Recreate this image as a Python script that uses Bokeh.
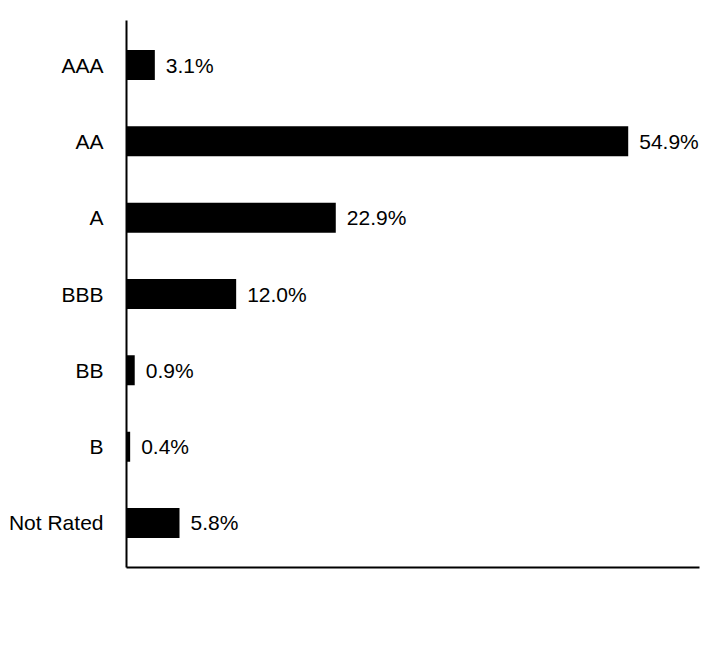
from bokeh.plotting import figure
from bokeh.models import ColumnDataSource, FactorRange, Range1d
from bokeh.core.properties import value
from bokeh.embed import file_html
from bokeh.resources import INLINE

ratings = ["AAA", "AA", "A", "BBB", "BB", "B", "Not Rated"]
weights = [3.1, 54.9, 22.9, 12.0, 0.9, 0.4, 5.8]
labels = ["%.1f%%" % w for w in weights]

src = ColumnDataSource(data=dict(rating=ratings, weight=weights, label=labels))

yr = FactorRange(factors=list(reversed(ratings)), range_padding=0.083,
                 range_padding_units="absolute")

p = figure(width=712, height=640, y_range=yr, x_range=Range1d(0, 62.7),
           output_backend="svg", toolbar_location=None,
           min_border_left=126, min_border_right=13,
           min_border_top=20, min_border_bottom=73)

p.hbar(y="rating", right="weight", left=0, height=0.393, source=src,
       fill_color="black", line_color=None)
p.text(x="weight", y="rating", text="label", source=src, x_offset=11,
       text_baseline="middle", text_align="left", text_font_size="21px",
       text_font=value("Liberation Sans"), text_color="black")

p.outline_line_color = None
p.xgrid.grid_line_color = None
p.ygrid.grid_line_color = None

p.yaxis.axis_line_width = 2
p.yaxis.axis_line_color = "black"
p.yaxis.major_tick_line_color = None
p.yaxis.minor_tick_line_color = None
p.yaxis.major_label_standoff = 17
p.yaxis.major_label_text_font = "Liberation Sans"
p.yaxis.major_label_text_font_size = "21px"
p.yaxis.major_label_text_color = "black"

p.xaxis.axis_line_width = 2
p.xaxis.axis_line_color = "black"
p.xaxis.major_tick_line_color = None
p.xaxis.minor_tick_line_color = None
p.xaxis.major_label_text_color = None
p.xaxis.major_label_text_font_size = "0px"

open("out.html", "w").write(file_html(p, INLINE))
